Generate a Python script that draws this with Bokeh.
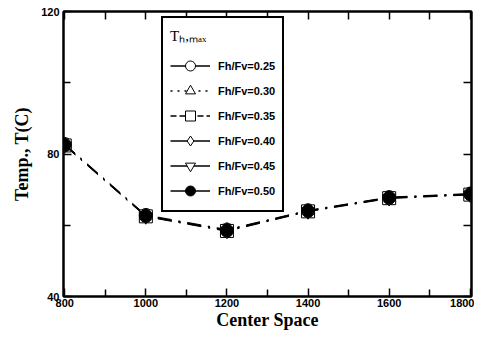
from bokeh.plotting import figure
from bokeh.models import (FixedTicker, LinearAxis, Legend, LegendItem, Range1d)
from bokeh.embed import file_html
from bokeh.resources import INLINE

# ---- data ----
center_space = [800, 1000, 1200, 1400, 1600, 1800]
t_025 = [82.8, 62.9, 58.8, 64.2, 67.9, 68.9]
t_030 = [82.6, 62.7, 58.6, 64.0, 67.7, 68.7]
t_035 = [82.4, 62.5, 58.4, 63.9, 67.6, 68.6]
t_040 = [82.7, 62.6, 58.7, 64.1, 67.8, 68.8]
t_045 = [82.3, 62.4, 58.3, 63.8, 67.5, 68.5]
t_050 = [82.5, 62.6, 58.5, 64.0, 67.7, 68.7]
series_labels = ["Fh/Fv=0.25", "Fh/Fv=0.30", "Fh/Fv=0.35",
                 "Fh/Fv=0.40", "Fh/Fv=0.45", "Fh/Fv=0.50"]
series_values = [t_025, t_030, t_035, t_040, t_045, t_050]
markers = ["circle", "triangle", "square", "diamond", "inverted_triangle", "circle"]
fills = ["white", "white", "white", "white", "white", "black"]
legend_dash = ["solid", "2 5", "6 3", "solid", "solid", "solid"]
x_major = [800, 1000, 1200, 1400, 1600, 1800]
x_minor = [900, 1100, 1300, 1500, 1700]
y_major = [40, 80, 120]
y_minor = [60, 100]

p = figure(width=474, height=332, output_backend="svg", toolbar_location=None,
           x_range=Range1d(797, 1803), y_range=Range1d(40, 120),
           min_border_left=63, min_border_right=3, min_border_top=11, min_border_bottom=34)
p.grid.visible = False
p.outline_line_color = "black"
p.outline_line_width = 2
p.outline_line_alpha = 1.0
p.background_fill_color = "white"
p.border_fill_color = "white"

p.xaxis.ticker = FixedTicker(ticks=x_major, minor_ticks=x_minor)
p.yaxis.ticker = FixedTicker(ticks=y_major, minor_ticks=y_minor)

for ax in (p.xaxis[0], p.yaxis[0]):
    ax.major_tick_in = 8
    ax.major_tick_out = 0
    ax.minor_tick_in = 7
    ax.minor_tick_out = 0
    ax.major_tick_line_width = 1.5
    ax.minor_tick_line_width = 1.5
    ax.axis_line_width = 2
    ax.major_label_text_font = "Liberation Sans"
    ax.major_label_text_font_style = "bold"
    ax.major_label_text_font_size = "11px"
    ax.major_label_text_color = "black"
    ax.major_label_standoff = 2
    ax.axis_label_text_font = "Liberation Serif"
    ax.axis_label_text_font_style = "bold"
    ax.axis_label_text_font_size = "18px"
    ax.axis_label_text_color = "black"
    ax.axis_label_standoff = 0

p.yaxis.major_label_standoff = 4
p.yaxis.axis_label_standoff = 6
p.xaxis.axis_label = "Center Space"
p.yaxis.axis_label = "Temp., T(C)"

for loc, tk in (("right", FixedTicker(ticks=[], minor_ticks=y_major + y_minor)),
                ("above", FixedTicker(ticks=[], minor_ticks=x_major + x_minor))):
    ax = LinearAxis(ticker=tk, major_label_standoff=0,
                    major_tick_in=0, major_tick_out=0, minor_tick_in=8, minor_tick_out=0,
                    minor_tick_line_width=1.5, axis_line_width=2)
    p.add_layout(ax, loc)

items = []
for lab, vals, mk, fc, ld in zip(series_labels, series_values, markers, fills, legend_dash):
    ln = p.line(center_space, vals, line_color="black", line_width=1.0, line_dash="14 7 2 7")
    lg = p.line(center_space, vals, line_color="black", line_width=1.5, line_dash=ld, visible=False)
    sc = p.scatter(center_space, vals, marker=mk, size=13, line_color="black",
                   fill_color=fc, line_width=1)
    items.append(LegendItem(label=lab, renderers=[lg, sc]))

legend = Legend(items=items, location=(98, 84), title="T\u2095,\u2098\u2090\u2093",
                title_text_font="Liberation Serif", title_text_font_size="15px",
                title_text_font_style="normal", title_text_color="black", title_standoff=8,
                label_text_font="Liberation Sans", label_text_font_style="bold",
                label_text_font_size="11px", label_text_color="black",
                glyph_width=40, glyph_height=25,
                label_height=20, spacing=0, padding=7, margin=0,
                border_line_color="black", border_line_width=2, border_line_alpha=1.0,
                background_fill_color="white", background_fill_alpha=1.0, label_standoff=8)
p.add_layout(legend, "center")

open("out.html", "w").write(file_html(p, INLINE))
